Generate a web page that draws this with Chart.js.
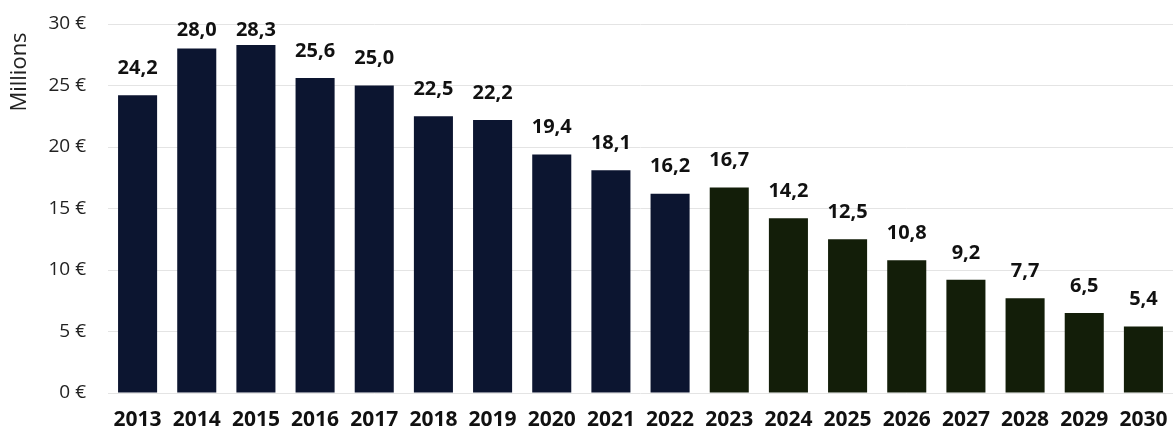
<!DOCTYPE html>
<html>
<head>
<meta charset="utf-8">
<script src="https://cdn.jsdelivr.net/npm/chart.js@4"></script>
<style>
  html, body { margin: 0; padding: 0; background: #fff; }
  #wrap { width: 1173px; height: 436px; }
</style>
</head>
<body>
<div id="wrap"><canvas id="myChart" width="1173" height="436"></canvas></div>
<script>
const years = ['2013', '2014', '2015', '2016', '2017', '2018', '2019', '2020', '2021',
  '2022', '2023', '2024', '2025', '2026', '2027', '2028', '2029', '2030']
const values = [24.2, 28.0, 28.3, 25.6, 25.0, 22.5, 22.2, 19.4, 18.1,
  16.2, 16.7, 14.2, 12.5, 10.8, 9.2, 7.7, 6.5, 5.4]
const yTicks = [0, 5, 10, 15, 20, 25, 30]
const axisTitle = 'Millions'

const colorPast = '#0c1530'
const colorForecast = '#131e09'
const fontFamily = '"Open Sans", "DejaVu Sans", sans-serif'

// bars up to 2022 are navy, forecast years green
const barColors = years.map((y) => (parseInt(y) <= 2022 ? colorPast : colorForecast))

// draws the value above each bar + the rotated "Millions" title
const labelsPlugin = {
  id: 'barLabels',
  afterDatasetsDraw(chart) {
    const ctx = chart.ctx
    const meta = chart.getDatasetMeta(0)
    ctx.save()
    ctx.fillStyle = '#111'
    ctx.font = 'bold 20px ' + fontFamily
    ctx.textAlign = 'center'
    ctx.textBaseline = 'bottom'
    meta.data.forEach((bar, i) => {
      let yPos = bar.y - 17
      if (yPos < 40) yPos = 40
      ctx.fillText(values[i].toFixed(1).replace('.', ','), bar.x, yPos)
    })
    ctx.translate(20, 72)
    ctx.rotate(-Math.PI / 2)
    ctx.font = '22px ' + fontFamily
    ctx.textBaseline = 'middle'
    ctx.fillStyle = '#222'
    ctx.fillText(axisTitle, 0, 0)
    ctx.restore()
  },
}

const ctx = document.getElementById('myChart').getContext('2d')
new Chart(ctx, {
  type: 'bar',
  data: {
    labels: years,
    datasets: [
      {
        data: values,
        backgroundColor: barColors,
        borderWidth: 0,
        categoryPercentage: 1.0,
        barPercentage: 0.66,
      },
    ],
  },
  options: {
    responsive: false,
    animation: false,
    layout: { padding: { top: 24, right: 0, left: 0, bottom: 0 } },
    plugins: {
      legend: { display: false },
      tooltip: { enabled: false },
    },
    scales: {
      x: {
        grid: { display: false },
        border: { display: false },
        afterFit(scale) {
          scale.height = 43
          scale.paddingLeft = 0
          scale.paddingRight = 0
        },
        ticks: {
          color: '#111',
          font: { family: fontFamily, size: 21, weight: 'bold' },
          padding: 6,
          maxRotation: 0,
        },
      },
      y: {
        min: 0,
        max: 30,
        afterFit(scale) {
          scale.width = 108
          scale.paddingTop = 0
          scale.paddingBottom = 0
        },
        afterBuildTicks(scale) { scale.ticks = yTicks.map((v) => ({ value: v })) },
        grid: { color: '#e4e4e4', lineWidth: 1, drawTicks: false },
        border: { display: false },
        ticks: {
          color: '#222',
          padding: 22,
          font: { family: fontFamily, size: 19 },
          callback: (v) => v + ' €',
        },
      },
    },
  },
  plugins: [labelsPlugin],
})
</script>
</body>
</html>
